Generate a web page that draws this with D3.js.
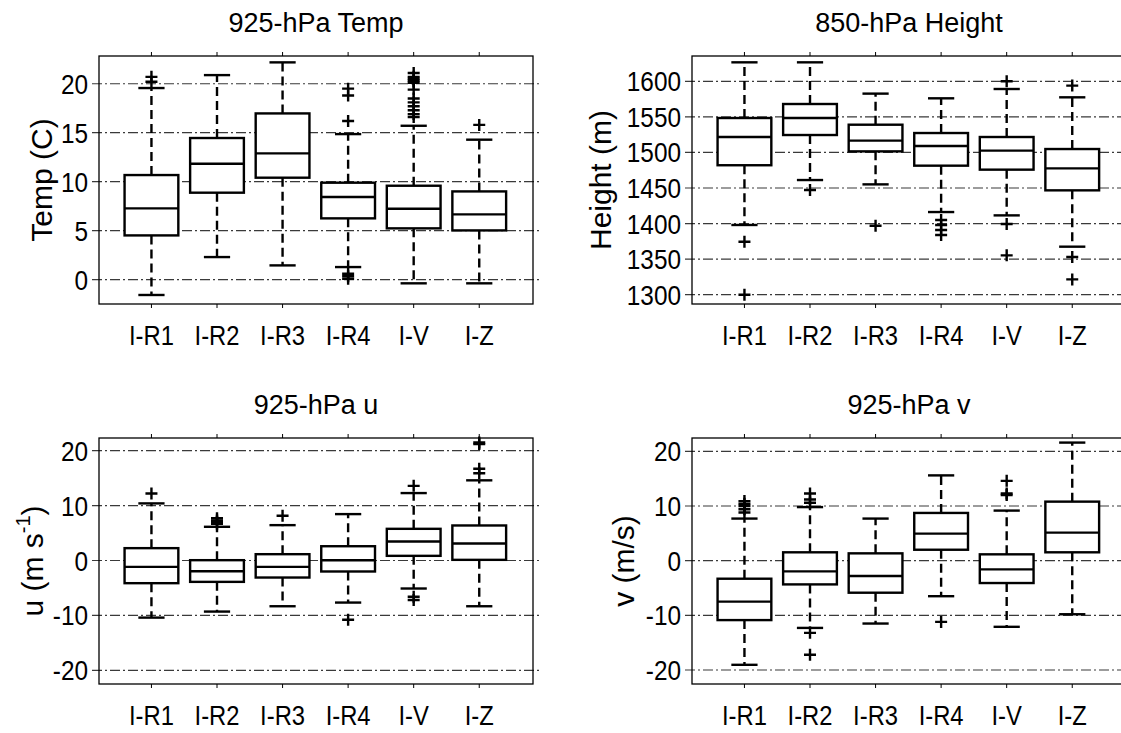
<!DOCTYPE html>
<html>
<head>
<meta charset="utf-8">
<script src="https://d3js.org/d3.v7.min.js"></script>
<style>
  body { margin: 0; background: #fff; }
  svg { display: block; }
  text { font-family: "Liberation Sans", Arial, sans-serif; fill: #000; }
</style>
</head>
<body>
<div id="chart"></div>
<script>
// ==============================
// DATA
// ==============================

const categories = ["I-R1", "I-R2", "I-R3", "I-R4", "I-V", "I-Z"];

// 925-hPa temperature (C)
const tempQ1  = [4.52, 8.88, 10.41, 6.26, 5.24, 5.03];
const tempMed = [7.28, 11.84, 12.89, 8.44, 7.24, 6.67];
const tempQ3  = [10.68, 14.46, 16.97, 9.9, 9.59, 9.01];
const tempLo  = [-1.56, 2.31, 1.46, 1.29, -0.37, -0.37];
const tempHi  = [19.56, 20.88, 22.18, 14.86, 15.71, 14.29];
const tempOut = [
  [20.2, 20.7],
  [],
  [],
  [0.1, 0.35, 0.6, 16.2, 18.8, 19.5],
  [16.6, 16.9, 17.3, 17.7, 18.1, 18.5, 19.4, 20.1, 20.3, 20.5, 20.7, 21.1],
  [15.8]
];
const tempTicks = [0, 5, 10, 15, 20];

// 850-hPa geopotential height (m)
const htQ1  = [1482, 1524.5, 1501.5, 1481.4, 1475.8, 1446.7];
const htMed = [1521.7, 1548.4, 1516.6, 1509, 1502.5, 1477.6];
const htQ3  = [1548.4, 1568.1, 1539, 1527.3, 1521.7, 1504.8];
const htLo  = [1398, 1461.2, 1455.1, 1416.2, 1411.5, 1367.5];
const htHi  = [1626.7, 1626.7, 1582.7, 1576.1, 1589.2, 1577.5];
const htOut = [
  [1374.5, 1300],
  [1447.2],
  [1397],
  [1405, 1398, 1391, 1384],
  [1600, 1399.3, 1355.3],
  [1594, 1353, 1321.5]
];
const htTicks = [1300, 1350, 1400, 1450, 1500, 1550, 1600];

// 925-hPa u wind (m/s)
const uQ1  = [-4.13, -3.89, -3.1, -2.0, 0.85, 0.12];
const uMed = [-1.16, -1.95, -1.16, 0.06, 3.47, 3.1];
const uQ3  = [2.25, 0.06, 1.15, 2.6, 5.77, 6.38];
const uLo  = [-10.4, -9.3, -8.33, -7.66, -5.1, -8.33];
const uHi  = [10.4, 6.14, 6.44, 8.45, 12.28, 14.6];
const uOut = [
  [12.2],
  [6.7, 7.0, 7.3, 7.7],
  [8.15],
  [-10.8],
  [13.6, -6.6, -7.2],
  [15.9, 16.7, 21.2, 21.5]
];

// 925-hPa v wind (m/s)
const vQ1  = [-10.87, -4.34, -5.86, 2.0, -4.09, 1.53];
const vMed = [-7.5, -1.95, -2.8, 4.95, -1.6, 5.13];
const vQ3  = [-3.3, 1.53, 1.34, 8.73, 1.16, 10.8];
const vLo  = [-19.05, -12.3, -11.5, -6.5, -12.1, -9.8];
const vHi  = [7.7, 9.8, 7.7, 15.6, 9.16, 21.6];
const vOut = [
  [8.8, 9.4, 10.0, 10.4, 10.9],
  [10.6, 11.2, 12.3, -13.2, -17.2],
  [],
  [-11.2],
  [12.0, 12.3, 14.6],
  []
];
const windTicks = [-20, -10, 0, 10, 20];

// ==============================
// SVG SETUP
// ==============================

const width = 1121;
const height = 733;

const svg = d3.select("#chart")
  .append("svg")
  .attr("width", width)
  .attr("height", height);

// panel frames (pixel boxes of each axes)
const leftX = [99, 533];
const rightX = [692, 1126];
const topY = [56, 304];
const botY = [438, 684];

const panels = [
  { title: "925-hPa Temp", ylabel: "Temp (C)", xr: leftX, yr: topY, ylOff: 47,
    domain: [-2.48, 22.83], ticks: tempTicks,
    q1: tempQ1, med: tempMed, q3: tempQ3, lo: tempLo, hi: tempHi, out: tempOut },
  { title: "850-hPa Height", ylabel: "Height (m)", xr: rightX, yr: topY, ylOff: 81,
    domain: [1286.9, 1635.6], ticks: htTicks,
    q1: htQ1, med: htMed, q3: htQ3, lo: htLo, hi: htHi, out: htOut },
  { title: "925-hPa u", ylabel: "u", xr: leftX, yr: botY, ylOff: 56,
    domain: [-22.49, 22.31], ticks: windTicks,
    q1: uQ1, med: uMed, q3: uQ3, lo: uLo, hi: uHi, out: uOut },
  { title: "925-hPa v", ylabel: "v (m/s)", xr: rightX, yr: botY, ylOff: 58,
    domain: [-22.56, 22.44], ticks: windTicks,
    q1: vQ1, med: vMed, q3: vQ3, lo: vLo, hi: vHi, out: vOut }
];

const boxHalf = 0.41;   // half box width, in category units
const capHalf = 0.2;    // half whisker-cap width
const plusSize = 6;     // half size of the outlier "+"

// ==============================
// DRAW ONE PANEL
// ==============================

function drawPanel(p, idx) {
  const g = svg.append("g").attr("class", "panel-" + idx);

  const x = d3.scaleLinear()
    .domain([0.2, 6.82])
    .range(p.xr);

  const y = d3.scaleLinear()
    .domain(p.domain)
    .range([p.yr[1], p.yr[0]]);

  const [x0, x1] = p.xr;
  const [yTop, yBot] = [p.yr[0], p.yr[1]];

  // dash-dot grid lines
  g.append("g")
    .selectAll("line")
    .data(p.ticks)
    .enter()
    .append("line")
    .attr("x1", x0 - 7)
    .attr("x2", x1 + 8)
    .attr("y1", d => y(d))
    .attr("y2", d => y(d))
    .attr("stroke", "#3a3a3a")
    .attr("stroke-width", 1.2)
    .attr("stroke-dasharray", "10,3,2,3");

  // axes box
  g.append("rect")
    .attr("x", x0)
    .attr("y", yTop)
    .attr("width", x1 - x0)
    .attr("height", yBot - yTop)
    .attr("fill", "none")
    .attr("stroke", "#000")
    .attr("stroke-width", 1.3);

  // category ticks outside top and bottom edges
  const idxs = d3.range(categories.length);
  g.append("g")
    .selectAll("line")
    .data(idxs)
    .enter()
    .append("line")
    .attr("x1", i => x(i + 1))
    .attr("x2", i => x(i + 1))
    .attr("y1", yTop - 4)
    .attr("y2", yTop)
    .attr("stroke", "#000");
  g.append("g")
    .selectAll("line")
    .data(idxs)
    .enter()
    .append("line")
    .attr("x1", i => x(i + 1))
    .attr("x2", i => x(i + 1))
    .attr("y1", yBot)
    .attr("y2", yBot + 4)
    .attr("stroke", "#000");

  // whiskers (dashed)
  const box = g.append("g")
    .attr("stroke", "#000")
    .attr("stroke-width", 2.4)
    .attr("fill", "none");

  box.selectAll(".wh-up")
    .data(idxs)
    .enter()
    .append("line")
    .attr("x1", i => x(i + 1))
    .attr("x2", i => x(i + 1))
    .attr("y1", i => y(p.q3[i]))
    .attr("y2", i => y(p.hi[i]))
    .attr("stroke-dasharray", "9,5");

  box.selectAll(".wh-dn")
    .data(idxs)
    .enter()
    .append("line")
    .attr("x1", i => x(i + 1))
    .attr("x2", i => x(i + 1))
    .attr("y1", i => y(p.q1[i]))
    .attr("y2", i => y(p.lo[i]))
    .attr("stroke-dasharray", "9,5");

  // whisker caps
  box.selectAll(".cap-hi")
    .data(idxs)
    .enter()
    .append("line")
    .attr("x1", i => x(i + 1 - capHalf))
    .attr("x2", i => x(i + 1 + capHalf))
    .attr("y1", i => y(p.hi[i]))
    .attr("y2", i => y(p.hi[i]));

  box.selectAll(".cap-lo")
    .data(idxs)
    .enter()
    .append("line")
    .attr("x1", i => x(i + 1 - capHalf))
    .attr("x2", i => x(i + 1 + capHalf))
    .attr("y1", i => y(p.lo[i]))
    .attr("y2", i => y(p.lo[i]));

  // boxes
  box.selectAll("rect")
    .data(idxs)
    .enter()
    .append("rect")
    .attr("x", i => x(i + 1 - boxHalf))
    .attr("width", i => x(i + 1 + boxHalf) - x(i + 1 - boxHalf))
    .attr("y", i => y(p.q3[i]))
    .attr("height", i => y(p.q1[i]) - y(p.q3[i]))
    .attr("fill", "#fff");

  // medians
  box.selectAll(".med")
    .data(idxs)
    .enter()
    .append("line")
    .attr("x1", i => x(i + 1 - boxHalf))
    .attr("x2", i => x(i + 1 + boxHalf))
    .attr("y1", i => y(p.med[i]))
    .attr("y2", i => y(p.med[i]));

  // outliers as "+"
  const outs = [];
  p.out.forEach((arr, i) => arr.forEach(v => outs.push({ i, v })));
  box.selectAll(".out")
    .data(outs)
    .enter()
    .append("path")
    .attr("stroke-width", 2.4)
    .attr("d", d => {
      const cx = x(d.i + 1), cy = y(d.v);
      return `M${cx - plusSize},${cy}H${cx + plusSize}M${cx},${cy - plusSize}V${cy + plusSize}`;
    });

  // y tick labels
  g.append("g")
    .selectAll("text")
    .data(p.ticks)
    .enter()
    .append("text")
    .attr("transform", d => `translate(${x0 - 11},${y(d) + 10}) scale(0.87,1)`)
    .attr("text-anchor", "end")
    .attr("font-size", 28)
    .text(d => d);

  // x tick labels
  g.append("g")
    .selectAll("text")
    .data(idxs)
    .enter()
    .append("text")
    .attr("transform", i => `translate(${x(i + 1)},${yBot + 41}) scale(0.85,1)`)
    .attr("text-anchor", "middle")
    .attr("font-size", 28)
    .text(i => categories[i]);

  // title
  g.append("text")
    .attr("x", (x0 + x1) / 2)
    .attr("y", yTop - 24)
    .attr("text-anchor", "middle")
    .attr("font-size", 27)
    .text(p.title);

  // y label
  const yl = g.append("text")
    .attr("transform", `translate(${x0 - p.ylOff},${(yTop + yBot) / 2}) rotate(-90)`)
    .attr("text-anchor", "middle")
    .attr("font-size", 30);
  if (p.ylabel === "u") {
    yl.append("tspan").text("u (m s");
    yl.append("tspan").attr("font-size", 20).attr("dy", -13).text("-1");
    yl.append("tspan").attr("dy", 13).text(")");
  } else {
    yl.text(p.ylabel);
  }
}

panels.forEach(drawPanel);
</script>
</body>
</html>
